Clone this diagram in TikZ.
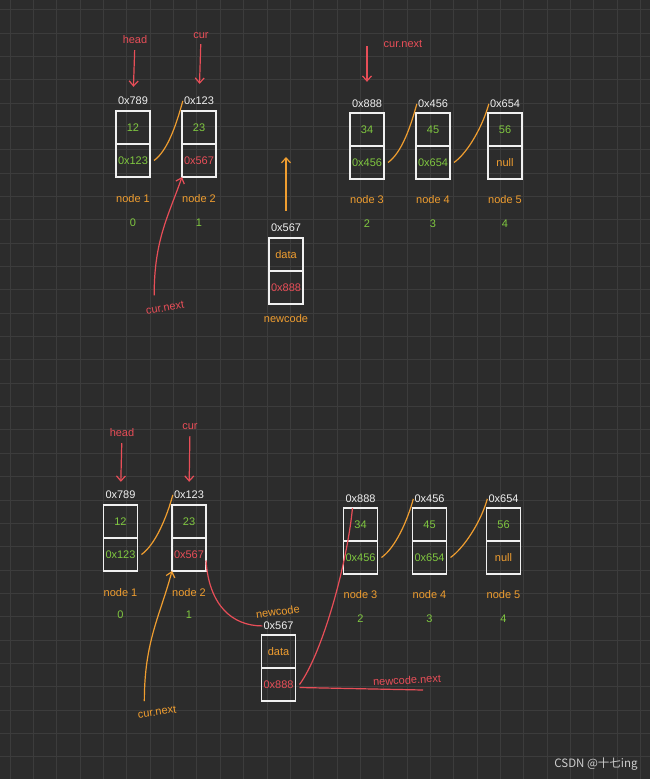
\documentclass[tikz,border=0pt]{standalone}
\usepackage{fontspec}
\setmainfont{Liberation Sans}
\newfontfamily\cjk{Noto Sans CJK SC}
\usetikzlibrary{positioning,arrows.meta}
\definecolor{bgcol}{RGB}{44,44,44}
\definecolor{gridcol}{RGB}{60,60,60}
\definecolor{penred}{RGB}{232,78,88}
\definecolor{penorange}{RGB}{240,158,48}
\definecolor{pengreen}{RGB}{128,200,64}
\definecolor{penwhite}{RGB}{240,240,240}
\tikzset{
  hand/.style={font=\fontsize{11}{13}\selectfont, inner sep=1pt},
  cell/.style={hand, draw=penwhite, line width=1.3pt, minimum width=34pt, minimum height=33pt, inner sep=0pt, outer sep=0pt},
  addr/.style={hand, text=penwhite},
  tag/.style={hand, text=penorange},
  idx/.style={hand, text=pengreen},
  ptr/.style={hand, text=penred},
  redarrow/.style={draw=penred, line width=1.2pt, -{Straight Barb[length=5pt,width=9pt]}},
  orarrow/.style={draw=penorange, line width=1.2pt, -{Straight Barb[length=5pt,width=9pt]}},
  link/.style={draw=penorange, line width=1.2pt},
  redline/.style={draw=penred, line width=1.2pt},
  gridline/.style={draw=gridcol, line width=0.7pt},
  wmark/.style={font=\cjk\fontsize{11.5}{13}\selectfont, text={rgb,255:red,205;green,205;blue,205}}
}
\begin{document}
\begin{tikzpicture}[x=1pt, y=-1pt]
    \useasboundingbox (0,0) rectangle (650,779);
    \fill[bgcol] (0,0) rectangle (650,779);
    \foreach \i in {0,...,27} \draw[gridline] ({10+23.35*\i},0) -- ({10+23.35*\i},779);
    \foreach \j in {0,...,32} \draw[gridline] (0,{9.5+23.35*\j}) -- (650,{9.5+23.35*\j});

    \node[cell, text=pengreen] (t1d) at (133,127.5) {12};
    \node[cell, text=pengreen, below=0pt of t1d] (t1n) {0x123};
    \node[cell, text=pengreen] (t2d) at (199,127.5) {23};
    \node[cell, text=penred, below=0pt of t2d] (t2n) {0x567};
    \node[cell, text=pengreen] (t3d) at (367,129.5) {34};
    \node[cell, text=pengreen, below=0pt of t3d] (t3n) {0x456};
    \node[cell, text=pengreen] (t4d) at (433,129.5) {45};
    \node[cell, text=pengreen, below=0pt of t4d] (t4n) {0x654};
    \node[cell, text=pengreen] (t5d) at (505,129.5) {56};
    \node[cell, text=penorange, below=0pt of t5d] (t5n) {null};
    \node[cell, text=penorange] (t6d) at (286,254.5) {data};
    \node[cell, text=penred, below=0pt of t6d] (t6n) {0x888};

    \node[addr, above=5pt of t1d] (t1a) {0x789};
    \node[addr, above=5pt of t2d] (t2a) {0x123};
    \node[addr, above=4pt of t3d] (t3a) {0x888};
    \node[addr, above=4pt of t4d] (t4a) {0x456};
    \node[addr, above=4pt of t5d] (t5a) {0x654};
    \node[addr, above=5pt of t6d] (t6a) {0x567};

    \node[tag, below=16pt of t1n] (t1l) {node 1};
    \node[tag, below=16pt of t2n] (t2l) {node 2};
    \node[tag, below=15pt of t3n] (t3l) {node 3};
    \node[tag, below=15pt of t4n] (t4l) {node 4};
    \node[tag, below=15pt of t5n] (t5l) {node 5};
    \node[tag, below=9pt of t6n] (t6l) {newcode};
    \node[idx, below=14pt of t1l] (t1i) {0};
    \node[idx, below=14pt of t2l] (t2i) {1};
    \node[idx, below=14pt of t3l] (t3i) {2};
    \node[idx, below=14pt of t4l] (t4i) {3};
    \node[idx, below=14pt of t5l] (t5i) {4};

    \node[ptr] (th) at (135,40) {head};
    \node[ptr] (tc) at (201,36) {cur};
    \node[ptr] (cn2) at (403,44) {cur.next};
    \coordinate (cn2s) at (367,46);
    \node[ptr, rotate=10] (cn1) at (165,308) {cur.next};
    \coordinate (up) at (286,157);

    \draw[redarrow, shorten <=5pt, shorten >=9pt] (th) -- (t1a);
    \draw[redarrow, shorten <=4pt, shorten >=12pt] (tc) -- (t2a);
    \draw[redarrow, shorten >=17pt] (cn2s) -- (t3a);
    \draw[redarrow] ([xshift=-10pt,yshift=8pt]cn1.north) .. controls +(0,-55) and +(-14,40) .. (t2n.south west);
    \draw[orarrow] ([yshift=12pt]t6a.north) -- (up);
    \draw[link] ([xshift=4pt]t1n.east) .. controls +(14,-10) and +(-6,22) .. (t2a.west);
    \draw[link] ([xshift=4pt]t3n.east) .. controls +(14,-10) and +(-6,22) .. (t4a.west);
    \draw[link] ([xshift=4pt]t4n.east) .. controls +(14,-10) and +(-6,22) .. (t5a.west);

    \node[cell, text=pengreen] (b1d) at (120.5,521.5) {12};
    \node[cell, text=pengreen, below=0pt of b1d] (b1n) {0x123};
    \node[cell, text=pengreen] (b2d) at (189,521.5) {23};
    \node[cell, text=penred, below=0pt of b2d] (b2n) {0x567};
    \node[cell, text=pengreen] (b3d) at (360.5,524.5) {34};
    \node[cell, text=pengreen, below=0pt of b3d] (b3n) {0x456};
    \node[cell, text=pengreen] (b4d) at (429.5,524.5) {45};
    \node[cell, text=pengreen, below=0pt of b4d] (b4n) {0x654};
    \node[cell, text=pengreen] (b5d) at (503.5,524.5) {56};
    \node[cell, text=penorange, below=0pt of b5d] (b5n) {null};
    \node[cell, text=penorange] (b6d) at (278.5,651.5) {data};
    \node[cell, text=penred, below=0pt of b6d] (b6n) {0x888};

    \node[addr, above=5pt of b1d] (b1a) {0x789};
    \node[addr, above=5pt of b2d] (b2a) {0x123};
    \node[addr, above=4pt of b3d] (b3a) {0x888};
    \node[addr, above=4pt of b4d] (b4a) {0x456};
    \node[addr, above=4pt of b5d] (b5a) {0x654};
    \node[addr, above=4pt of b6d] (b6a) {0x567};

    \node[tag, below=16pt of b1n] (b1l) {node 1};
    \node[tag, below=16pt of b2n] (b2l) {node 2};
    \node[tag, below=15pt of b3n] (b3l) {node 3};
    \node[tag, below=15pt of b4n] (b4l) {node 4};
    \node[tag, below=15pt of b5n] (b5l) {node 5};
    \node[tag, above=4pt of b6a, rotate=8] (b6l) {newcode};
    \node[idx, below=12pt of b1l] (b1i) {0};
    \node[idx, below=12pt of b2l] (b2i) {1};
    \node[idx, below=14pt of b3l] (b3i) {2};
    \node[idx, below=14pt of b4l] (b4i) {3};
    \node[idx, below=14pt of b5l] (b5i) {4};

    \node[ptr] (bh) at (122,433) {head};
    \node[ptr] (bc) at (190,427) {cur};
    \node[tag, rotate=8] (cn3) at (157,712) {cur.next};
    \node[ptr, rotate=3] (nn) at (407,680) {newcode.next};
    \coordinate (nnx) at (423,690);

    \draw[redarrow, shorten <=5pt, shorten >=8pt] (bh) -- (b1a);
    \draw[redarrow, shorten <=5pt, shorten >=8pt] (bc) -- (b2a);
    \draw[orarrow] ([xshift=-12pt,yshift=6pt]cn3.north) .. controls +(0,-60) and +(-12,45) .. (b2n.south west);
    \draw[redline] ([yshift=-6pt]b2n.east) .. controls +(3,45) and +(-30,0) .. (b6a.west);
    \draw[redline] ([xshift=4pt]b6n.east) .. controls +(22,-30) and +(-6,60) .. ([xshift=9pt]b3d.north west);
    \draw[redline] ([xshift=4pt,yshift=-3pt]b6n.east) -- (nnx);
    \draw[link] ([xshift=4pt]b1n.east) .. controls +(14,-10) and +(-6,22) .. (b2a.west);
    \draw[link] ([xshift=4pt]b3n.east) .. controls +(14,-10) and +(-6,22) .. (b4a.west);
    \draw[link] ([xshift=4pt]b4n.east) .. controls +(14,-10) and +(-6,22) .. (b5a.west);

    \node[wmark] (wm) at (596,764) {CSDN @十七ing};
\end{tikzpicture}
\end{document}
